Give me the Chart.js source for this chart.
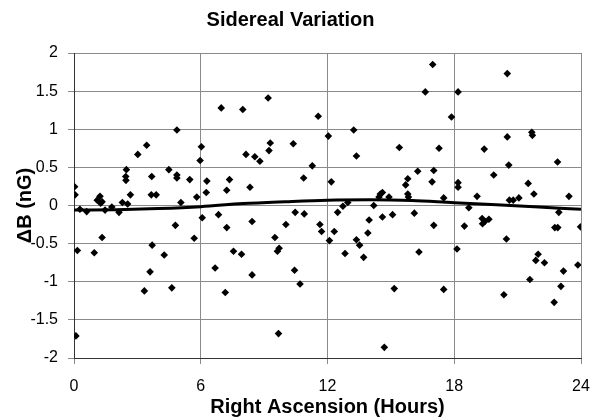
<!DOCTYPE html>
<html>
<head>
<meta charset="utf-8">
<script src="https://cdn.jsdelivr.net/npm/chart.js@4/dist/chart.umd.min.js"></script>
<style>
  html, body { margin: 0; padding: 0; background: #fff; }
  #wrap { width: 593px; height: 419px; position: relative; }
</style>
</head>
<body>
<div id="wrap"><canvas id="c" width="593" height="419"></canvas></div>
<script>
const chartTitle = "Sidereal Variation";
const xTitle = "Right Ascension (Hours)";
const yTitle = "\u0394B (nG)";

// Observed points: right ascension (hours) and ΔB (nG)
const raHours = [
  0.03,0.05,0.09,0.16,0.28,0.6,0.96,1.1,1.23,1.26,1.33,1.33,1.47,1.79,2.13,2.29,2.46,2.45,2.48,2.54,
  2.67,3.02,3.44,3.33,3.6,3.7,3.68,3.66,3.89,4.27,4.49,4.63,4.8,4.87,4.87,4.87,5.06,5.48,5.69,5.81,
  5.97,6.03,6.07,6.26,6.29,6.68,6.84,6.97,7.16,7.23,7.23,7.36,7.55,7.93,7.99,8.14,8.33,8.43,8.43,8.56,
  8.8,9.19,9.23,9.29,9.51,9.63,9.71,9.68,10.03,10.38,10.44,10.47,10.7,10.87,10.9,11.28,11.56,11.64,11.72,12.04,
  12.09,12.18,12.32,12.48,12.73,12.83,12.96,13.24,13.37,13.37,13.52,13.71,13.91,13.97,14.19,14.44,14.5,14.6,14.6,14.69,
  14.91,15.08,15.16,15.4,15.7,15.8,15.8,15.83,16.11,16.27,16.33,16.63,16.95,16.98,17.03,17.03,17.28,17.5,17.5,17.87,
  18.13,18.18,18.18,18.18,18.48,18.69,19.08,19.32,19.34,19.45,19.42,19.64,19.87,20.35,20.51,20.51,20.47,20.58,20.61,20.79,
  21.06,21.5,21.58,21.67,21.7,21.77,21.86,21.97,22.27,22.73,22.76,22.9,22.89,22.95,23.05,23.17,23.43,23.85,23.98
];
const deltaB = [
  0.245,0.14,-1.71,-0.59,-0.05,-0.08,-0.62,0.07,0.12,0.03,0.05,-0.42,-0.06,-0.02,-0.09,0.04,0.33,0.38,0.47,0.02,
  0.14,0.67,0.79,-1.12,-0.87,-0.52,0.38,0.14,0.14,-0.65,0.47,-1.08,-0.26,0.99,0.4,0.36,0.04,0.34,-0.43,0.11,
  0.59,0.77,-0.16,0.17,0.32,-0.82,-0.12,1.28,-1.14,-0.29,0.2,0.34,-0.6,-0.64,1.26,0.67,0.24,-0.21,-0.91,0.64,
  0.58,1.41,0.72,0.82,-0.42,-0.6,-0.56,-1.68,-0.25,0.81,-0.85,-0.09,-1.03,0.36,-0.11,0.52,1.17,-0.25,-0.34,0.91,
  -0.46,0.31,-0.34,-0.09,-0.01,-0.63,0.04,0.99,0.65,-0.45,-0.52,-0.68,-0.36,-0.19,0.0,0.11,0.15,0.17,-0.15,-1.86,
  0.11,-0.12,-1.09,0.76,0.27,0.35,0.15,0.11,-0.1,0.45,-0.61,1.49,0.31,1.85,0.46,-0.26,0.75,0.1,-1.1,1.16,
  -0.57,1.49,0.3,0.24,-0.27,-0.03,0.12,-0.17,-0.24,-0.21,0.74,-0.18,0.4,-1.17,1.73,0.9,-0.44,0.53,0.07,0.07,
  0.1,0.29,-0.97,0.96,0.92,0.15,-0.72,-0.64,-0.75,-1.27,-0.29,-0.29,0.57,-0.09,-1.06,-0.86,0.12,-0.78,-0.28
];

// Fitted curve
const fitHours = [0, 2, 4, 6, 8, 10, 12, 14, 16, 18, 20, 22, 24];
const fitValues = [-0.06, -0.055, -0.04, -0.015, 0.025, 0.05, 0.07, 0.075, 0.065, 0.035, 0.01, -0.02, -0.05];

const xTicks = [0, 6, 12, 18, 24];

const pts = raHours.map((x, i) => ({x: x, y: deltaB[i]}));
const fit = fitHours.map((x, i) => ({x: x, y: fitValues[i]}));

Chart.defaults.font.family = "'Liberation Sans', Arial, sans-serif";
Chart.defaults.color = '#000';

new Chart(document.getElementById('c'), {
  type: 'scatter',
  data: {
    datasets: [
      {
        data: pts,
        pointStyle: 'rectRot',
        pointRadius: 3.8,
        backgroundColor: '#000',
        borderColor: '#000',
        borderWidth: 0,
        showLine: false
      },
      {
        data: fit,
        showLine: true,
        borderColor: '#000',
        borderWidth: 3,
        pointRadius: 0,
        cubicInterpolationMode: 'monotone',
        fill: false
      }
    ]
  },
  options: {
    responsive: false,
    animation: false,
    layout: { padding: { left: 0, right: 12, top: 0, bottom: 0 } },
    plugins: {
      legend: { display: false },
      tooltip: { enabled: false },
      title: {
        display: true,
        text: chartTitle,
        font: { size: 20, weight: 'bold' },
        color: '#000',
        padding: { top: 8, bottom: 21 }
      }
    },
    scales: {
      x: {
        type: 'linear',
        min: 0, max: 24,
        afterBuildTicks: (s) => { s.ticks = xTicks.map(v => ({value: v})); },
        afterFit: (s) => { s.height = 61; s.paddingLeft = 0; s.paddingRight = 0; },
        grid: { color: '#8a8a8a', lineWidth: 1, tickLength: 6, drawTicks: true },
        border: { color: '#333', width: 1 },
        ticks: { font: { size: 16 }, color: '#000', padding: 13, maxRotation: 0 },
        title: { display: true, text: xTitle, font: { size: 20, weight: 'bold' }, color: '#000', padding: { top: 0, bottom: 0 } }
      },
      y: {
        type: 'linear',
        min: -2, max: 2,
        ticks: { stepSize: 0.5, font: { size: 16 }, color: '#000', padding: 10,
                 callback: (v) => String(Math.round(v * 10) / 10) },
        afterFit: (s) => { s.width = 74; },
        grid: { color: '#8a8a8a', lineWidth: 1, tickLength: 6, drawTicks: true },
        border: { color: '#333', width: 1 },
        title: { display: true, text: yTitle, font: { size: 20, weight: 'bold' }, color: '#000', padding: { top: 13, bottom: 0 } }
      }
    }
  }
});
</script>
</body>
</html>
